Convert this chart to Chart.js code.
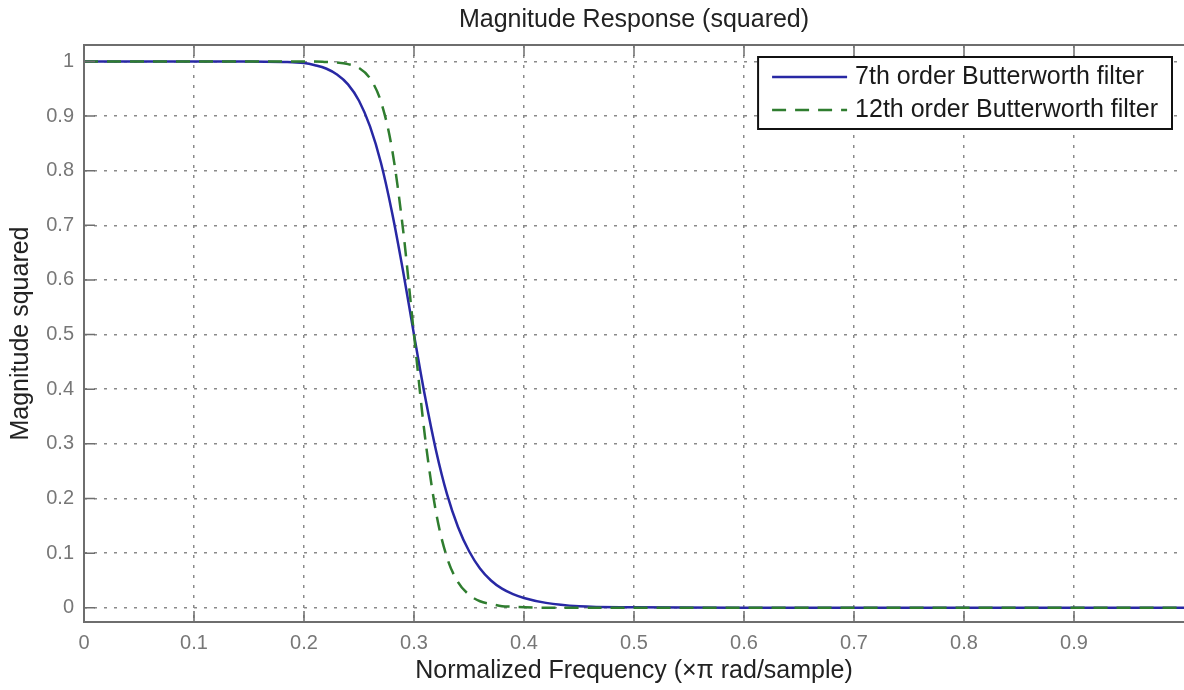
<!DOCTYPE html>
<html>
<head>
<meta charset="utf-8">
<script src="https://cdn.jsdelivr.net/npm/chart.js@4.4.0/dist/chart.umd.min.js"></script>
<style>
  html, body { margin: 0; padding: 0; background: #fff; }
  #wrap { width: 1184px; height: 690px; position: relative; }
</style>
</head>
<body>
<div id="wrap"><canvas id="chartMagnitude"></canvas></div>
<script>
const chartTitle = 'Magnitude Response (squared)';
const xLabel = 'Normalized Frequency (\u00d7\u03c0 rad/sample)';
const yLabel = 'Magnitude squared';
const seriesLabels = ['7th order Butterworth filter', '12th order Butterworth filter'];

// normalized frequency samples
const freq = [0, 0.05, 0.1, 0.15, 0.18, 0.2, 0.21, 0.22, 0.23, 0.24, 0.25, 0.26, 0.27, 0.28, 0.29,
              0.3, 0.31, 0.32, 0.33, 0.34, 0.35, 0.36, 0.37, 0.38, 0.39, 0.4, 0.42, 0.45, 0.5,
              0.6, 0.7, 0.8, 0.9, 1.0];
const order7 = [1, 1, 1, 1, 0.999, 0.997, 0.993, 0.987, 0.976, 0.958, 0.928, 0.881, 0.814, 0.724, 0.617,
                0.5, 0.387, 0.288, 0.208, 0.148, 0.104, 0.072, 0.05, 0.035, 0.025, 0.018, 0.009, 0.003, 0.001,
                0, 0, 0, 0, 0];
const order12 = [1, 1, 1, 1, 1, 1, 1, 0.999, 0.998, 0.995, 0.988, 0.969, 0.926, 0.84, 0.693,
                 0.5, 0.313, 0.175, 0.092, 0.047, 0.024, 0.012, 0.007, 0.003, 0.002, 0.001, 0, 0, 0,
                 0, 0, 0, 0, 0];

const xTicks = [0, 0.1, 0.2, 0.3, 0.4, 0.5, 0.6, 0.7, 0.8, 0.9];
const yTicks = [0, 0.1, 0.2, 0.3, 0.4, 0.5, 0.6, 0.7, 0.8, 0.9, 1];

const fontFamily = '"Liberation Sans", Arial, Helvetica, sans-serif';
const toPoints = ys => freq.map((f, i) => ({ x: f, y: ys[i] }));

// MATLAB-like axes box with inward tick marks, plus the title
const axesBox = {
    id: 'axesBox',
    afterDatasetsDraw(chart) {
        const { ctx, chartArea: a, scales: { x, y } } = chart;
        ctx.save();
        ctx.strokeStyle = '#6e6e6e';
        ctx.lineWidth = 2;
        ctx.beginPath();
        ctx.moveTo(a.right + 5, a.top);
        ctx.lineTo(a.left, a.top);
        ctx.lineTo(a.left, a.bottom);
        ctx.lineTo(a.right + 5, a.bottom);
        ctx.stroke();

        const len = 11;
        ctx.lineWidth = 1.5;
        ctx.beginPath();
        xTicks.forEach(v => {
            const px = x.getPixelForValue(v);
            ctx.moveTo(px, a.bottom); ctx.lineTo(px, a.bottom - len);
            ctx.moveTo(px, a.top); ctx.lineTo(px, a.top + len);
        });
        yTicks.forEach(v => {
            const py = y.getPixelForValue(v);
            ctx.moveTo(a.left, py); ctx.lineTo(a.left + len, py);
        });
        ctx.stroke();

        ctx.fillStyle = '#222';
        ctx.font = '25px ' + fontFamily;
        ctx.textAlign = 'center';
        ctx.textBaseline = 'middle';
        ctx.fillText(chartTitle, (a.left + a.right) / 2, 20);
        ctx.restore();
    }
};

// boxed legend inside the plot, top right
const legendBox = {
    id: 'legendBox',
    afterDraw(chart) {
        const { ctx, chartArea: a } = chart;
        const sets = chart.data.datasets;
        ctx.save();
        ctx.font = '25px ' + fontFamily;
        const textW = Math.max(...sets.map(d => ctx.measureText(d.label).width));
        const sample = 75, gap = 8, pad = 14, rowH = 33;
        const w = pad + sample + gap + textW + pad;
        const h = 72;
        const x0 = a.right - 12 - w, y0 = a.top + 12;
        ctx.fillStyle = '#fff';
        ctx.fillRect(x0, y0, w, h);
        ctx.strokeStyle = '#111';
        ctx.lineWidth = 2;
        ctx.strokeRect(x0, y0, w, h);
        sets.forEach((d, i) => {
            const cy = y0 + 20 + i * rowH;
            ctx.strokeStyle = d.borderColor;
            ctx.lineWidth = d.borderWidth;
            ctx.setLineDash(d.borderDash || []);
            ctx.beginPath();
            ctx.moveTo(x0 + pad, cy);
            ctx.lineTo(x0 + pad + sample, cy);
            ctx.stroke();
            ctx.setLineDash([]);
            ctx.fillStyle = '#1a1a1a';
            ctx.textAlign = 'left';
            ctx.textBaseline = 'middle';
            ctx.fillText(d.label, x0 + pad + sample + gap, cy);
        });
        ctx.restore();
    }
};

const ctxMag = document.getElementById('chartMagnitude').getContext('2d');

new Chart(ctxMag, {
    type: 'line',
    data: {
        datasets: [{
            label: seriesLabels[0],
            data: toPoints(order7),
            borderColor: '#2828a4',
            borderWidth: 2.5,
            cubicInterpolationMode: 'monotone',
            pointRadius: 0,
            fill: false,
            order: 1
        }, {
            label: seriesLabels[1],
            data: toPoints(order12),
            borderColor: '#2f7d2f',
            borderWidth: 2.5,
            borderDash: [14, 9],
            cubicInterpolationMode: 'monotone',
            pointRadius: 0,
            fill: false,
            order: 0
        }]
    },
    options: {
        responsive: true,
        maintainAspectRatio: false,
        animation: false,
        layout: { padding: { top: 45, right: 0, bottom: 0, left: 0 } },
        plugins: {
            legend: { display: false },
            tooltip: { enabled: false }
        },
        scales: {
            x: {
                type: 'linear',
                min: 0,
                max: 1,
                afterBuildTicks: s => { s.ticks = xTicks.map(v => ({ value: v })); },
                afterFit: s => { s.height = 68; },
                grid: { color: '#8a8a8a', lineWidth: 1.5, drawTicks: false },
                border: { display: false, dash: [3, 7] },
                ticks: {
                    padding: 9,
                    color: '#777',
                    font: { family: fontFamily, size: 20 },
                    maxRotation: 0,
                    callback: v => String(v)
                },
                title: {
                    display: true,
                    text: xLabel,
                    color: '#222',
                    font: { family: fontFamily, size: 25 },
                    padding: { top: 0, bottom: 4 }
                }
            },
            y: {
                type: 'linear',
                min: -0.026,
                max: 1.03,
                afterBuildTicks: s => { s.ticks = yTicks.map(v => ({ value: v })); },
                afterFit: s => { s.width = 84; },
                grid: { color: '#8a8a8a', lineWidth: 1.5, drawTicks: false },
                border: { display: false, dash: [3, 7] },
                ticks: {
                    padding: 10,
                    color: '#777',
                    font: { family: fontFamily, size: 20 },
                    callback: v => String(v)
                },
                title: {
                    display: true,
                    text: yLabel,
                    color: '#222',
                    font: { family: fontFamily, size: 25 },
                    padding: { top: 6, bottom: 0 }
                }
            }
        }
    },
    plugins: [axesBox, legendBox]
});
</script>
</body>
</html>
